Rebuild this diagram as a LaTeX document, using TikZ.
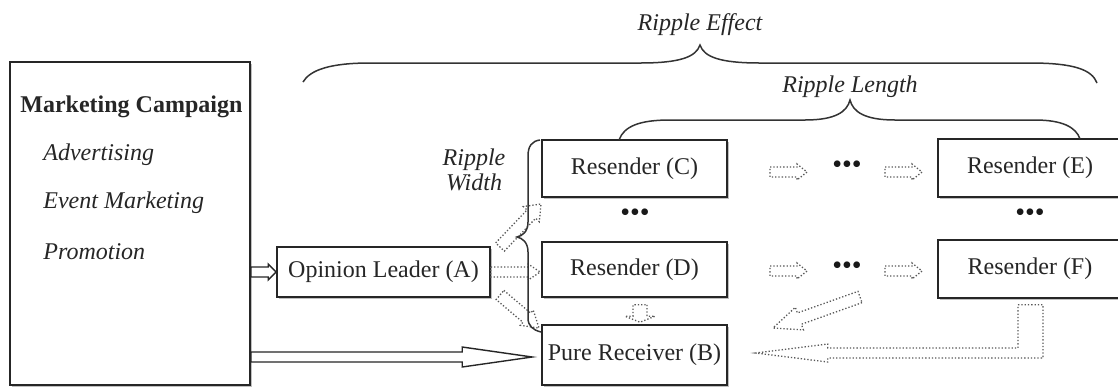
\documentclass[tikz,border=0pt]{standalone}
\usepackage{fontspec}
\setmainfont{Liberation Serif}
\usetikzlibrary{calc,shadows}

% Outline arrow from #2 to #3: shaft half-width #4, head half-width #5, head length #6
\newcommand{\hollowarrow}[6][]{%
  \coordinate (hab) at ($(#3)!#6!(#2)$);
  \draw[#1] ($(#2)!#4!90:(#3)$) -- ($(hab)!#4!90:(#3)$) -- ($(hab)!#5!90:(#3)$)
    -- (#3) -- ($(hab)!#5!-90:(#3)$) -- ($(hab)!#4!-90:(#3)$)
    -- ($(#2)!#4!-90:(#3)$) -- cycle;}

\begin{document}
\begin{tikzpicture}[x=0.5pt,y=-0.5pt,
  box/.style={draw=black!85, line width=0.8pt, fill=white, inner sep=0pt,
    drop shadow={shadow xshift=1.2pt, shadow yshift=-1.2pt, fill=black!45, opacity=0.55},
    font=\fontsize{12}{14}\selectfont, text=black!85},
  lbl/.style={inner sep=0pt, font=\fontsize{12}{12.5}\selectfont\itshape, text=black!85},
  brace/.style={draw=black!80, line width=0.75pt},
  solidarrow/.style={draw=black!85, line width=0.7pt, fill=white},
  dotarrow/.style={draw=black!65, line width=0.65pt, densely dotted},
  dots/.style={inner sep=0pt, font=\fontsize{14}{14}\selectfont, text=black!90}
]
\useasboundingbox (0,0) rectangle (1118,387);
\clip (0,0) rectangle (1118,387);
\fill[white] (0,0) rectangle (1118,387);

% campaign box and its contents
\node[box, minimum width=120pt, minimum height=161.5pt] (mc) at (130,223.5) {};
\node[inner sep=0pt, anchor=west, font=\fontsize{12}{14}\selectfont\bfseries, text=black!85] (mct) at (20,107) {Marketing Campaign};
\node[lbl, anchor=west] (ad) at (43,155) {Advertising};
\node[lbl, anchor=west] (ev) at (43,203) {Event Marketing};
\node[lbl, anchor=west] (pr) at (43,252) {Promotion};

% actors
\node[box, minimum width=106.5pt, minimum height=25pt] (A) at (383.5,272) {Opinion Leader (A)};
\node[box, minimum width=92.5pt, minimum height=28.5pt] (C) at (634.5,168.5) {Resender (C)};
\node[box, minimum width=92.5pt, minimum height=27.5pt] (D) at (634.5,269.5) {Resender (D)};
\node[box, minimum width=92.5pt, minimum height=30pt] (B) at (634.5,355) {Pure Receiver (B)};
\node[box, minimum width=92pt, minimum height=29pt] (E) at (1030,168) {Resender (E)};
\node[box, minimum width=92pt, minimum height=29pt] (F) at (1030,269) {Resender (F)};

% ellipses
\node[dots] (d1) at (635,215) {•••};
\node[dots] (d2) at (1030,215) {•••};
\node[dots] (d3) at (847,167) {•••};
\node[dots] (d4) at (847,268) {•••};

% campaign arrows
\coordinate (m1) at (mc.east |- A.west);
\hollowarrow[solidarrow]{m1}{A.west}{2.5pt}{4pt}{4pt}
\coordinate (m2) at (mc.east |- 0,357);
\coordinate (m3) at ($(B.west |- m2)+(-9,0)$);
\hollowarrow[solidarrow]{m2}{m3}{2.5pt}{5pt}{35pt}

% spreading from the opinion leader
\coordinate (ac1) at (500,247);
\coordinate (ac2) at (541,204);
\hollowarrow[dotarrow]{ac1}{ac2}{3pt}{5.5pt}{7pt}
\coordinate (ad2) at ($(D.west)+(-1,2.5)$);
\coordinate (ad1) at (A.east |- ad2);
\hollowarrow[dotarrow]{ad1}{ad2}{2.5pt}{4pt}{6pt}
\coordinate (ab1) at (500,295);
\coordinate (ab2) at (539,328);
\hollowarrow[dotarrow]{ab1}{ab2}{3pt}{5pt}{8pt}

% D to B
\coordinate (db1) at ($(D.south)+(5.5,7)$);
\coordinate (db2) at ($(B.north)+(5.5,-2)$);
\hollowarrow[dotarrow]{db1}{db2}{3.5pt}{7.5pt}{3pt}

% forwarding along the rows
\coordinate (r1) at (770,172);  \coordinate (r2) at (807,172);
\coordinate (r3) at (885,172);  \coordinate (r4) at (922,172);
\coordinate (r5) at (770,271);  \coordinate (r6) at (807,271);
\coordinate (r7) at (885,271);  \coordinate (r8) at (922,271);
\hollowarrow[dotarrow]{r1}{r2}{2.5pt}{4pt}{5pt}
\hollowarrow[dotarrow]{r3}{r4}{2.5pt}{4pt}{5pt}
\hollowarrow[dotarrow]{r5}{r6}{2.5pt}{4pt}{5pt}
\hollowarrow[dotarrow]{r7}{r8}{2.5pt}{4pt}{5pt}

% back to the pure receiver
\coordinate (g1) at (860,297);
\coordinate (g2) at (773,328);
\hollowarrow[dotarrow]{g1}{g2}{3pt}{6pt}{14pt}

\coordinate (Lt) at ($(F.south)+(0,6)$);
\coordinate (Lh) at ($(B.east)+(28,-2)$);
\draw[dotarrow] ($(Lt)+(-12,0)$) -- ($(Lt)+(13,0)$) -- ($(Lt |- Lh)+(13,5)$)
  -- ($(Lh)+(72,5)$) -- ($(Lh)+(72,9)$) -- (Lh) -- ($(Lh)+(72,-9)$)
  -- ($(Lh)+(72,-5)$) -- ($(Lt |- Lh)+(-12,-5)$) -- cycle;

% braces
\draw[brace] (303,82) .. controls (310,70) and (330,63) .. (370,63) -- (640,63)
  .. controls (680,63) and (696,57) .. (700,45)
  .. controls (704,57) and (720,63) .. (760,63) -- (1030,63)
  .. controls (1075,63) and (1092,70) .. (1097,83);
\draw[brace] (619,140) .. controls (624,126) and (640,120) .. (670,120) -- (805,120)
  .. controls (835,120) and (847,112) .. (850,100)
  .. controls (853,112) and (865,120) .. (895,120) -- (1035,120)
  .. controls (1062,120) and (1076,127) .. (1080,139);
\draw[brace] (540,140) .. controls (532,141) and (528,146) .. (528,156) -- (528,222)
  .. controls (528,232) and (522,236) .. (517,237)
  .. controls (522,238) and (528,242) .. (528,252) -- (528,318)
  .. controls (528,326) and (533,330) .. (541,332);

% brace labels
\node[lbl] (re) at (700,25) {Ripple Effect};
\node[lbl] (rl) at (850,87) {Ripple Length};
\node[lbl, align=center] (rw) at (474,170) {Ripple\\Width};
\end{tikzpicture}
\end{document}
